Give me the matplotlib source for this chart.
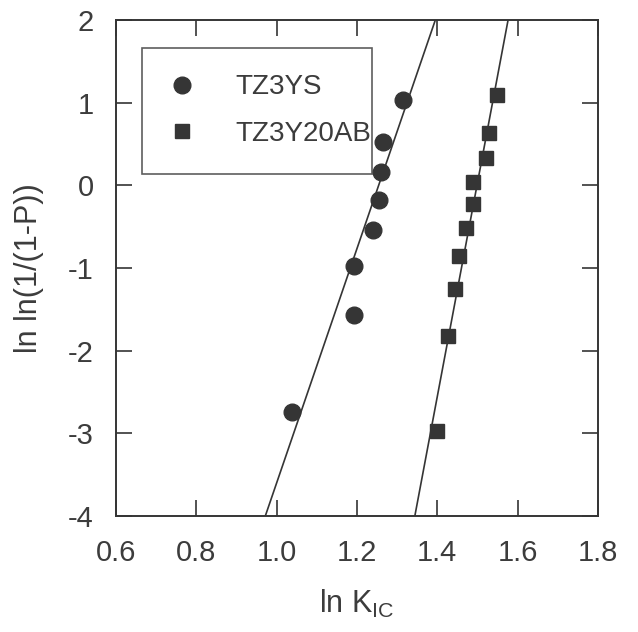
import matplotlib
matplotlib.use("Agg")
import matplotlib.pyplot as plt
import numpy as np

plt.rcParams['font.family'] = ['Liberation Sans', 'DejaVu Sans']
plt.rcParams['axes.unicode_minus'] = False

# Data
ys_label = "TZ3YS"
ys_x = [1.037, 1.192, 1.193, 1.240, 1.256, 1.259, 1.264, 1.314]
ys_y = [-2.74, -1.565, -0.98, -0.54, -0.18, 0.16, 0.52, 1.03]

ab_label = "TZ3Y20AB"
ab_x = [1.399, 1.426, 1.445, 1.453, 1.472, 1.489, 1.490, 1.521, 1.530, 1.549]
ab_y = [-2.98, -1.82, -1.25, -0.85, -0.52, -0.22, 0.04, 0.33, 0.64, 1.10]

# Weibull fit lines: slope m and x at y = 0
ys_m, ys_x0 = 14.18, 1.254
ab_m, ab_x0 = 25.86, 1.499

x_ticks = [0.6, 0.8, 1.0, 1.2, 1.4, 1.6, 1.8]
y_ticks = [-4, -3, -2, -1, 0, 1, 2]

ink = '#353535'
txt = '#3c3c3c'

fig = plt.figure(figsize=(6.38, 6.32), dpi=100)
ax = fig.add_axes([0.182, 0.184, 0.755, 0.784])

yl = np.array([-4.0, 2.0])
ax.plot(ys_x0 + yl / ys_m, yl, color=ink, lw=1.2)
ax.plot(ab_x0 + yl / ab_m, yl, color=ink, lw=1.2)

ax.plot(ys_x, ys_y, 'o', color=ink, ms=12, mec=ink, label=ys_label, linestyle='none')
ax.plot(ab_x, ab_y, 's', color=ink, ms=9.5, mec=ink, label=ab_label, linestyle='none')

ax.set_xlim(0.6, 1.8)
ax.set_ylim(-4, 2)
ax.set_xticks(x_ticks)
ax.set_xticklabels([f"{v:.1f}" for v in x_ticks])
ax.set_yticks(y_ticks)
ax.set_yticklabels([str(v) for v in y_ticks])

ax.tick_params(direction='in', length=11.5, width=1.2, colors=ink,
               labelcolor=txt, labelsize=21, top=True, right=True)
ax.tick_params(axis='x', pad=17)
ax.tick_params(axis='y', pad=16)
for s in ax.spines.values():
    s.set_color(ink)
    s.set_linewidth(1.4)

ax.set_xlabel(r"ln K$_{\mathregular{IC}}$", fontsize=22, color=txt, labelpad=15)
ax.set_ylabel("ln ln(1/(1-P))", fontsize=22, color=txt, labelpad=17)

leg = ax.legend(loc='upper left', bbox_to_anchor=(0.054, 0.944, 0.477, 0.0),
                mode='expand', borderaxespad=0, fontsize=20, frameon=True,
                fancybox=False, edgecolor=ink, handlelength=1.0,
                handletextpad=1.4, borderpad=0.95, labelspacing=0.75,
                labelcolor=txt)
leg.get_frame().set_linewidth(1.2)

fig.savefig("out.png", dpi=100, facecolor='white')
